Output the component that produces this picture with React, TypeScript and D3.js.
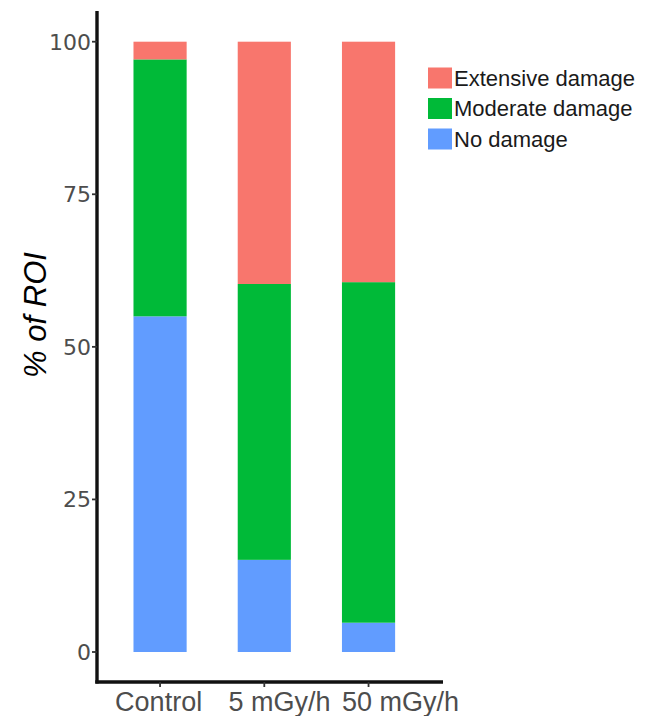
import React from "react";
import * as d3 from "d3";

const categories = ["Control", "5 mGy/h", "50 mGy/h"];
const seriesKeys = ["No damage", "Moderate damage", "Extensive damage"];
const noDamage = [55.0, 15.1, 4.8];
const moderateDamage = [42.1, 45.2, 55.8];
const extensiveDamage = [2.9, 39.7, 39.4];
const yTicks = [0, 25, 50, 75, 100];
const legendOrder = ["Extensive damage", "Moderate damage", "No damage"];

const colors: Record<string, string> = {
  "Extensive damage": "#F8766D",
  "Moderate damage": "#00BA38",
  "No damage": "#619CFF",
};

export default function App() {
  const W = 650;
  const H = 716;
  const rows = categories.map((c, i) => ({
    category: c,
    "No damage": noDamage[i],
    "Moderate damage": moderateDamage[i],
    "Extensive damage": extensiveDamage[i],
  }));
  const stack = d3.stack<any>().keys(seriesKeys);
  const layers = stack(rows);

  const x = d3
    .scaleBand<string>()
    .domain(categories)
    .range([97, 431.6])
    .paddingInner(0.49)
    .paddingOuter(0.35);
  const y = d3.scaleLinear().domain([0, 100]).range([652, 41.7]);

  const axisX = 97;
  const axisY = 682;
  const labelX0 = 169;
  const labelStretch = 1.16;

  return (
    <svg
      width={W}
      height={H}
      style={{ position: "absolute", left: 0, top: 0, background: "#fff" }}
      fontFamily="Liberation Sans, Arial, sans-serif"
    >
      {layers.map((layer) => (
        <g key={layer.key} fill={colors[layer.key]}>
          {layer.map((d, i) => (
            <rect
              key={i}
              x={x(categories[i])}
              width={x.bandwidth()}
              y={y(d[1])}
              height={y(d[0]) - y(d[1])}
            />
          ))}
        </g>
      ))}

      {/* y axis */}
      <line x1={axisX} x2={axisX} y1={11} y2={axisY + 1.6} stroke="#111" strokeWidth={3.4} />
      {yTicks.map((t) => (
        <g key={t}>
          <line x1={axisX - 5} x2={axisX} y1={y(t)} y2={y(t)} stroke="#333" strokeWidth={1.8} />
          <text
            x={axisX - 6}
            y={y(t)}
            dy="0.36em"
            textAnchor="end"
            fontFamily="DejaVu Sans, sans-serif"
            fontSize={22}
            fill="#4D4D4D"
          >
            {t}
          </text>
        </g>
      ))}

      {/* x axis */}
      <line x1={axisX - 1.7} x2={443} y1={axisY} y2={axisY} stroke="#111" strokeWidth={3.4} />
      {categories.map((c) => {
        const cx = (x(c) as number) + x.bandwidth() / 2;
        const lx = labelX0 + labelStretch * (cx - labelX0);
        return (
          <g key={c}>
            <line x1={cx} x2={cx} y1={axisY} y2={axisY + 5} stroke="#333" strokeWidth={1.8} />
            <text x={lx} y={711} textAnchor="middle" fontSize={27} fill="#4D4D4D">
              {c}
            </text>
          </g>
        );
      })}

      {/* y title */}
      <text
        transform="translate(46,315) rotate(-90)"
        textAnchor="middle"
        fontSize={31}
        fontStyle="italic"
        fill="#000"
      >
        % of ROI
      </text>

      {/* legend */}
      {legendOrder.map((k, i) => {
        const cy = 78 + i * 30.5;
        return (
          <g key={k}>
            <rect x={428} y={cy - 10.5} width={24} height={21} fill={colors[k]} />
            <text x={454} y={cy} dy="0.36em" fontSize={22} fill="#1a1a1a">
              {k}
            </text>
          </g>
        );
      })}
    </svg>
  );
}
